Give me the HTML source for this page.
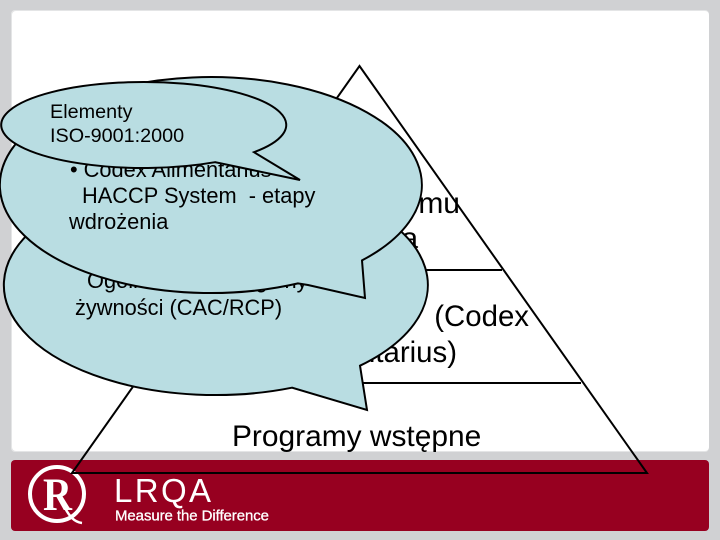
<!DOCTYPE html>
<html>
<head>
<meta charset="utf-8">
<style>
html,body{margin:0;padding:0;background:#d0d1d3;}
svg{display:block;}
text{font-family:"Liberation Sans",Arial,sans-serif;fill:#000;}
</style>
</head>
<body>
<svg width="720" height="540" viewBox="0 0 720 540" xmlns="http://www.w3.org/2000/svg">
  <rect width="720" height="540" fill="#d0d1d3"/>
  <rect x="11" y="10" width="698" height="442" rx="4" fill="#e4e5e6"/>
  <rect x="12" y="11" width="697" height="440" rx="4" fill="#ffffff"/>
  <rect x="11" y="460" width="698" height="71" rx="4" fill="#970020"/>

  <!-- Logo -->
  <circle cx="57" cy="494" r="27" fill="none" stroke="#fff" stroke-width="4"/>
  <text x="43" y="510" font-size="47" textLength="29" lengthAdjust="spacingAndGlyphs" style="font-family:'Liberation Serif',serif;font-weight:bold;fill:#fff">R</text>
  <path d="M64 506 C69 516 74 522 82 523" fill="none" stroke="#fff" stroke-width="2.500"/>
  <text x="114" y="502" font-size="33" textLength="97" style="fill:#fff">LRQA</text>
  <text x="115" y="520.500" font-size="15" textLength="154" stroke="#fff" stroke-width="0.300" style="fill:#fff">Measure the Difference</text>

  <!-- Pyramid -->
  <path d="M359.500 66 L647 473 L72 473 Z" fill="none" stroke="#000" stroke-width="2"/>
  <path d="M150 270 H502 M150 383 H581" fill="none" stroke="#000" stroke-width="2"/>
  <text x="460" y="213" font-size="30" text-anchor="end">mu</text>
  <text x="418" y="248" font-size="30" text-anchor="end">a</text>
  <text x="529" y="326" font-size="29.400" text-anchor="end">(Codex</text>
  <text x="457" y="362" font-size="29.400" text-anchor="end">Alimentarius)</text>
  <text x="232" y="446" font-size="29.900">Programy wstępne</text>

  <!-- Lower callout -->
  <path d="M360 365.700 L367 410 L292 387.700 A212 110 0 1 1 360 365.700 Z" fill="#b9dde2" stroke="#000" stroke-width="2" stroke-linejoin="miter"/>
  <text x="87" y="288" font-size="21.800">Ogólne zasady higieny</text>
  <text x="75" y="315" font-size="21.800">żywności (CAC/RCP)</text>

  <!-- Middle callout -->
  <path d="M362 260.400 L365 298 L308 285 L298 283.400 A211 108 0 1 1 362 260.400 Z" fill="#b9dde2" stroke="#000" stroke-width="2" stroke-linejoin="miter"/>
  <text x="70" y="177" font-size="21.800">• Codex Alimentarius</text>
  <text x="82" y="203" font-size="21.800" xml:space="preserve">HACCP System  - etapy</text>
  <text x="69" y="229" font-size="21.800">wdrożenia</text>

  <!-- Top callout -->
  <path d="M254 152.200 L300 180 L215 162.200 A142.500 43 0 1 1 254 152.200 Z" fill="#b9dde2" stroke="#000" stroke-width="2" stroke-linejoin="miter"/>
  <text x="50" y="118" font-size="19.800">Elementy</text>
  <text x="50" y="142" font-size="19.800">ISO-9001:2000</text>
</svg>
</body>
</html>
